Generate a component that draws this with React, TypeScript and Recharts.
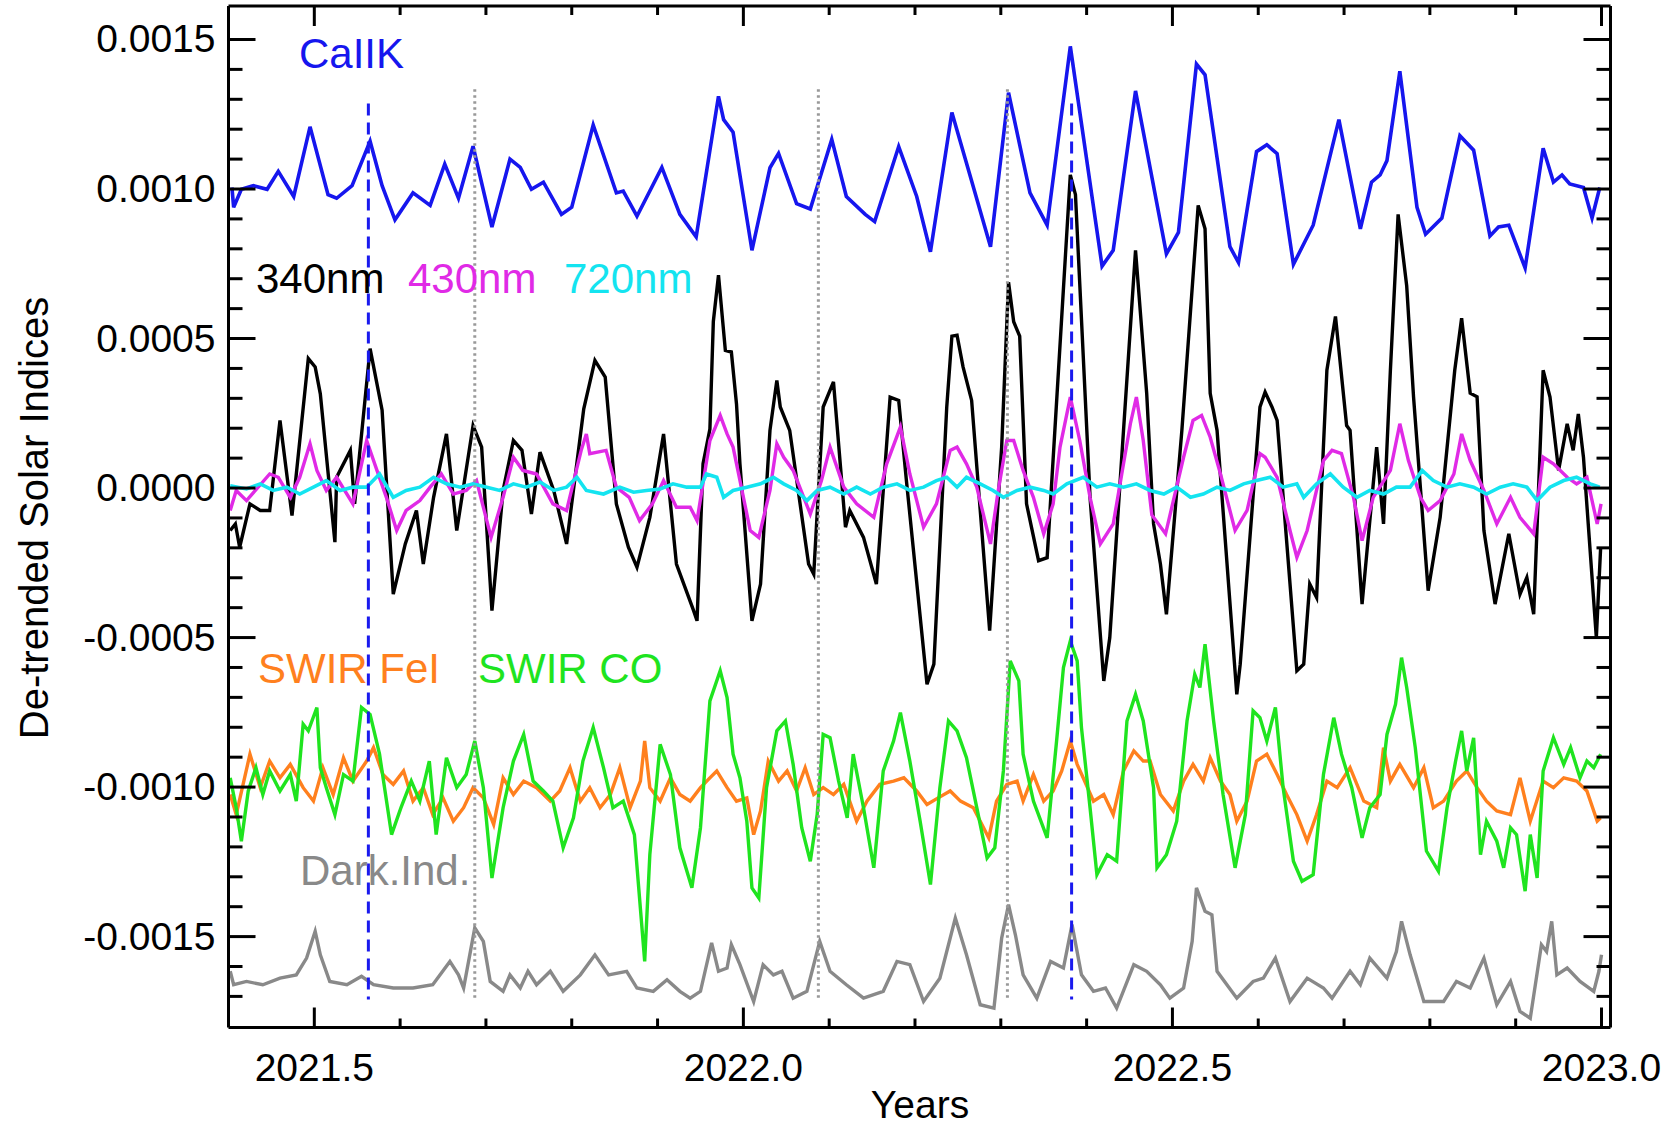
import React from 'react';
import { LineChart, Line, XAxis, YAxis, ReferenceLine } from 'recharts';

// All series values are read off the figure, in units of 1e-4 (axis shows them as 0.0015 etc.)
// pairs are [year, value]

const caiik: [number, number][] = [
    [2021.404, 10.05], [2021.406, 9.39], [2021.415, 9.99], [2021.429, 10.11], [2021.445, 9.99],
    [2021.458, 10.59], [2021.476, 9.75], [2021.495, 12.08], [2021.516, 9.81], [2021.526, 9.69],
    [2021.544, 10.11], [2021.565, 11.6], [2021.579, 10.11], [2021.594, 8.97], [2021.615, 9.87],
    [2021.635, 9.45], [2021.652, 10.83], [2021.668, 9.69], [2021.685, 11.43], [2021.707, 8.73],
    [2021.728, 11.0], [2021.74, 10.72], [2021.753, 9.99], [2021.767, 10.23], [2021.788, 9.15],
    [2021.8, 9.39], [2021.825, 12.14], [2021.852, 9.87], [2021.86, 9.93], [2021.876, 9.09],
    [2021.905, 10.72], [2021.926, 9.15], [2021.945, 8.4], [2021.971, 13.1], [2021.977, 12.32],
    [2021.988, 11.9], [2022.01, 7.95], [2022.031, 10.71], [2022.041, 11.19], [2022.062, 9.51],
    [2022.078, 9.33], [2022.103, 11.66], [2022.12, 9.75], [2022.142, 9.15], [2022.153, 8.91],
    [2022.181, 11.42], [2022.202, 9.75], [2022.218, 7.9], [2022.243, 12.56], [2022.264, 10.47],
    [2022.288, 8.07], [2022.309, 13.22], [2022.334, 9.87], [2022.354, 8.79], [2022.381, 14.77],
    [2022.418, 7.42], [2022.431, 7.95], [2022.457, 13.28], [2022.493, 7.83], [2022.507, 8.55],
    [2022.528, 14.18], [2022.538, 13.82], [2022.567, 8.07], [2022.577, 7.54], [2022.598, 11.25],
    [2022.61, 11.48], [2022.622, 11.18], [2022.641, 7.48], [2022.664, 8.79], [2022.694, 12.32],
    [2022.719, 8.67], [2022.732, 10.23], [2022.742, 10.47], [2022.75, 10.95], [2022.765, 13.94],
    [2022.785, 9.39], [2022.795, 8.49], [2022.814, 9.03], [2022.835, 11.78], [2022.851, 11.3],
    [2022.87, 8.43], [2022.88, 8.73], [2022.892, 8.79], [2022.911, 7.36], [2022.932, 11.36],
    [2022.944, 10.23], [2022.954, 10.47], [2022.963, 10.17], [2022.979, 10.05], [2022.989, 9.03],
    [2022.998, 10.05],
];

const nm340: [number, number][] = [
    [2021.402, -1.42], [2021.408, -1.2], [2021.413, -1.98], [2021.425, -0.53], [2021.437, -0.75],
    [2021.448, -0.75], [2021.46, 2.26], [2021.474, -0.92], [2021.493, 4.33], [2021.501, 4.05],
    [2021.507, 3.15], [2021.524, -1.81], [2021.526, 0.36], [2021.542, 1.26], [2021.547, -0.53],
    [2021.565, 4.66], [2021.579, 2.6], [2021.592, -3.55], [2021.606, -1.87], [2021.619, -0.75],
    [2021.627, -2.54], [2021.639, -0.31], [2021.654, 1.81], [2021.666, -1.42], [2021.685, 2.09],
    [2021.695, 1.37], [2021.707, -4.1], [2021.72, -0.08], [2021.732, 1.59], [2021.742, 1.26],
    [2021.753, -0.87], [2021.763, 1.2], [2021.779, -0.08], [2021.794, -1.87], [2021.814, 2.65],
    [2021.827, 4.27], [2021.839, 3.71], [2021.852, -0.53], [2021.866, -1.98], [2021.876, -2.65],
    [2021.891, -0.98], [2021.907, 1.81], [2021.922, -2.54], [2021.942, -4.1], [2021.946, -4.44],
    [2021.953, 0.81], [2021.961, 1.97], [2021.965, 5.57], [2021.971, 7.12], [2021.979, 4.6],
    [2021.986, 4.55], [2021.992, 2.81], [2021.996, 0.81], [2022.01, -4.44], [2022.02, -3.21],
    [2022.031, 1.93], [2022.039, 3.6], [2022.043, 2.71], [2022.054, 1.93], [2022.076, -2.54],
    [2022.082, -2.88], [2022.093, 2.71], [2022.105, 3.55], [2022.119, -1.31], [2022.124, -0.75],
    [2022.14, -1.65], [2022.155, -3.21], [2022.171, 3.04], [2022.181, 2.93], [2022.19, 0.25],
    [2022.214, -6.56], [2022.222, -5.89], [2022.237, 2.71], [2022.243, 5.08], [2022.249, 5.11],
    [2022.256, 4.05], [2022.266, 2.93], [2022.287, -4.77], [2022.301, 1.37], [2022.309, 6.88],
    [2022.315, 5.56], [2022.322, 5.08], [2022.33, -0.53], [2022.344, -2.43], [2022.354, -2.33],
    [2022.363, 1.93], [2022.381, 10.47], [2022.387, 9.81], [2022.404, -0.31], [2022.42, -6.45],
    [2022.427, -5.0], [2022.443, 1.93], [2022.457, 7.95], [2022.47, 3.17], [2022.478, -1.2],
    [2022.486, -2.54], [2022.493, -4.22], [2022.511, 1.93], [2022.53, 9.45], [2022.538, 8.67],
    [2022.544, 3.17], [2022.552, 1.93], [2022.575, -6.9], [2022.579, -5.89], [2022.602, 2.71],
    [2022.608, 3.21], [2022.616, 2.71], [2022.622, 2.26], [2022.645, -6.11], [2022.653, -5.89],
    [2022.66, -3.21], [2022.668, -3.66], [2022.68, 3.94], [2022.69, 5.74], [2022.703, 2.09],
    [2022.707, 1.93], [2022.721, -3.88], [2022.738, 1.37], [2022.746, -1.2], [2022.754, 3.94],
    [2022.763, 9.15], [2022.773, 6.76], [2022.781, 3.04], [2022.798, -3.43], [2022.812, -0.98],
    [2022.829, 3.94], [2022.837, 5.68], [2022.847, 3.17], [2022.855, 3.05], [2022.863, -1.42],
    [2022.876, -3.88], [2022.892, -1.53], [2022.905, -3.55], [2022.913, -2.99], [2022.921, -4.22],
    [2022.932, 3.94], [2022.94, 3.04], [2022.95, 0.59], [2022.96, 2.15], [2022.967, 1.26],
    [2022.973, 2.48], [2022.979, 1.03], [2022.994, -5.0], [2022.999, -2.0],
];

const nm430: [number, number][] = [
    [2021.402, -0.75], [2021.409, -0.08], [2021.421, -0.42], [2021.448, 0.47], [2021.458, 0.36],
    [2021.472, -0.31], [2021.483, 0.36], [2021.495, 1.48], [2021.503, 0.59], [2021.514, -0.08],
    [2021.526, 0.36], [2021.545, -0.53], [2021.561, 1.59], [2021.573, 0.59], [2021.584, -0.31],
    [2021.596, -1.42], [2021.607, -0.75], [2021.623, -0.42], [2021.635, 0.03], [2021.648, 0.47],
    [2021.662, -0.2], [2021.677, -0.08], [2021.689, 0.25], [2021.706, -1.65], [2021.72, -0.31],
    [2021.732, 1.03], [2021.743, 0.59], [2021.759, 0.47], [2021.778, -0.53], [2021.794, -0.75],
    [2021.811, 1.26], [2021.817, 1.81], [2021.821, 1.15], [2021.84, 1.26], [2021.852, 0.03],
    [2021.867, -0.31], [2021.879, -1.09], [2021.894, -0.53], [2021.907, 0.25], [2021.922, -0.64],
    [2021.938, -0.64], [2021.946, -1.09], [2021.961, 1.59], [2021.973, 2.43], [2021.981, 1.81],
    [2021.988, 1.37], [2022.008, -1.42], [2022.018, -1.65], [2022.031, -0.08], [2022.039, 1.48],
    [2022.047, 1.03], [2022.058, 0.59], [2022.078, -0.87], [2022.091, 0.25], [2022.101, 1.37],
    [2022.117, 0.03], [2022.132, -0.53], [2022.152, -0.98], [2022.167, 0.81], [2022.183, 2.04],
    [2022.194, 0.47], [2022.21, -1.31], [2022.225, -0.53], [2022.241, 1.26], [2022.249, 1.37],
    [2022.26, 0.81], [2022.272, 0.03], [2022.288, -1.87], [2022.297, -0.08], [2022.307, 1.59],
    [2022.315, 1.59], [2022.326, 0.59], [2022.338, -0.31], [2022.35, -1.53], [2022.361, -0.53],
    [2022.369, 1.37], [2022.381, 3.04], [2022.392, 1.59], [2022.404, -0.31], [2022.416, -1.87],
    [2022.431, -1.2], [2022.443, 0.81], [2022.451, 2.15], [2022.458, 3.04], [2022.466, 1.59],
    [2022.476, -0.9], [2022.492, -1.53], [2022.513, 1.03], [2022.524, 2.26], [2022.534, 2.43],
    [2022.544, 1.7], [2022.556, 0.47], [2022.573, -1.42], [2022.587, -0.75], [2022.602, 1.15],
    [2022.608, 1.03], [2022.622, 0.36], [2022.637, -1.42], [2022.645, -2.32], [2022.657, -1.42],
    [2022.676, 0.92], [2022.686, 1.26], [2022.697, 1.15], [2022.711, -0.31], [2022.721, -1.76],
    [2022.734, -0.31], [2022.754, 0.59], [2022.765, 2.15], [2022.775, 0.92], [2022.789, -0.31],
    [2022.798, -0.75], [2022.812, -0.42], [2022.828, 0.47], [2022.837, 1.81], [2022.847, 0.92],
    [2022.863, -0.08], [2022.878, -1.2], [2022.894, -0.31], [2022.905, -0.98], [2022.921, -1.53],
    [2022.932, 1.03], [2022.944, 0.81], [2022.96, 0.36], [2022.971, 0.14], [2022.983, 0.36],
    [2022.995, -1.2], [2022.9995, -0.53],
];

const nm720: [number, number][] = [
    [2021.402, 0.08], [2021.421, -0.03], [2021.437, 0.14], [2021.452, -0.08], [2021.468, 0.03],
    [2021.483, -0.2], [2021.499, 0.03], [2021.514, 0.25], [2021.53, -0.08], [2021.545, 0.03],
    [2021.561, 0.03], [2021.576, 0.47], [2021.592, -0.31], [2021.607, -0.08], [2021.623, 0.03],
    [2021.639, 0.36], [2021.654, 0.14], [2021.67, 0.03], [2021.685, 0.14], [2021.701, 0.03],
    [2021.716, -0.08], [2021.732, 0.14], [2021.747, 0.03], [2021.763, 0.2], [2021.779, -0.08],
    [2021.794, 0.03], [2021.806, 0.36], [2021.817, -0.08], [2021.837, -0.2], [2021.856, 0.03],
    [2021.872, -0.14], [2021.887, -0.08], [2021.903, -0.03], [2021.918, 0.14], [2021.934, 0.03],
    [2021.95, 0.03], [2021.957, 0.47], [2021.969, 0.36], [2021.977, -0.31], [2021.988, -0.08],
    [2022.004, 0.03], [2022.02, 0.14], [2022.035, 0.36], [2022.047, 0.14], [2022.062, -0.08],
    [2022.074, -0.42], [2022.086, -0.08], [2022.101, 0.03], [2022.117, -0.2], [2022.132, 0.03],
    [2022.148, -0.2], [2022.163, 0.03], [2022.179, 0.14], [2022.194, -0.08], [2022.21, 0.03],
    [2022.225, 0.25], [2022.237, 0.36], [2022.249, 0.03], [2022.26, 0.36], [2022.276, 0.14],
    [2022.291, -0.08], [2022.303, -0.31], [2022.319, -0.08], [2022.334, 0.03], [2022.35, -0.08],
    [2022.361, -0.2], [2022.377, 0.14], [2022.396, 0.36], [2022.412, 0.03], [2022.427, 0.14],
    [2022.443, 0.03], [2022.458, 0.14], [2022.474, -0.08], [2022.49, -0.2], [2022.505, 0.03],
    [2022.521, -0.31], [2022.536, -0.2], [2022.552, 0.03], [2022.567, -0.08], [2022.583, 0.14],
    [2022.598, 0.25], [2022.614, 0.36], [2022.629, 0.03], [2022.645, 0.14], [2022.653, -0.31],
    [2022.668, 0.14], [2022.684, 0.47], [2022.699, 0.03], [2022.715, -0.31], [2022.73, -0.08],
    [2022.746, -0.2], [2022.761, 0.03], [2022.777, 0.03], [2022.791, 0.59], [2022.804, 0.25],
    [2022.82, 0.03], [2022.835, 0.14], [2022.851, 0.03], [2022.866, -0.2], [2022.882, 0.03],
    [2022.897, 0.14], [2022.913, 0.03], [2022.925, -0.42], [2022.94, 0.03], [2022.956, 0.25],
    [2022.971, 0.36], [2022.987, 0.14], [2022.998, 0.03],
];

const swirFe: [number, number][] = [
    [2021.402, -10.25], [2021.409, -10.92], [2021.425, -8.9], [2021.437, -10.02], [2021.448, -9.13],
    [2021.46, -9.69], [2021.472, -9.24], [2021.487, -10.02], [2021.499, -10.47], [2021.51, -9.35],
    [2021.522, -10.25], [2021.534, -9.02], [2021.545, -9.8], [2021.561, -9.13], [2021.569, -8.68],
    [2021.58, -9.58], [2021.592, -9.91], [2021.604, -9.46], [2021.615, -10.47], [2021.627, -10.02],
    [2021.638, -10.92], [2021.65, -10.36], [2021.662, -11.14], [2021.674, -10.69], [2021.685, -10.02],
    [2021.697, -10.36], [2021.709, -11.25], [2021.72, -9.69], [2021.732, -10.25], [2021.744, -9.8],
    [2021.759, -10.02], [2021.775, -10.47], [2021.786, -10.13], [2021.798, -9.35], [2021.81, -10.47],
    [2021.821, -10.02], [2021.833, -10.69], [2021.845, -10.25], [2021.856, -9.35], [2021.868, -10.69],
    [2021.88, -9.8], [2021.885, -8.46], [2021.891, -10.02], [2021.903, -10.47], [2021.915, -9.69],
    [2021.926, -10.25], [2021.938, -10.47], [2021.95, -10.02], [2021.961, -9.69], [2021.969, -9.46],
    [2021.981, -10.02], [2021.992, -10.47], [2022.004, -10.36], [2022.012, -11.59], [2022.02, -10.8],
    [2022.029, -9.13], [2022.041, -9.8], [2022.051, -9.46], [2022.062, -10.13], [2022.072, -9.35],
    [2022.082, -10.25], [2022.093, -10.02], [2022.105, -10.25], [2022.117, -9.91], [2022.132, -11.14],
    [2022.144, -10.47], [2022.159, -9.91], [2022.175, -9.8], [2022.187, -9.69], [2022.202, -10.13],
    [2022.214, -10.58], [2022.227, -10.36], [2022.241, -10.13], [2022.253, -10.47], [2022.268, -10.69],
    [2022.286, -11.7], [2022.295, -10.47], [2022.307, -9.91], [2022.319, -9.8], [2022.326, -10.47],
    [2022.338, -9.58], [2022.35, -10.47], [2022.361, -10.13], [2022.371, -9.46], [2022.381, -8.46],
    [2022.389, -9.24], [2022.396, -9.69], [2022.408, -10.47], [2022.42, -10.25], [2022.431, -10.92],
    [2022.443, -9.46], [2022.455, -8.79], [2022.466, -9.13], [2022.474, -9.13], [2022.486, -10.25],
    [2022.501, -10.8], [2022.513, -9.8], [2022.524, -9.24], [2022.536, -9.8], [2022.544, -9.02],
    [2022.556, -9.8], [2022.567, -10.25], [2022.575, -11.14], [2022.587, -10.47], [2022.598, -9.13],
    [2022.61, -8.9], [2022.622, -9.58], [2022.633, -10.25], [2022.645, -10.92], [2022.657, -11.81],
    [2022.668, -10.92], [2022.68, -9.8], [2022.692, -10.02], [2022.707, -9.35], [2022.723, -10.47],
    [2022.738, -10.69], [2022.746, -8.68], [2022.754, -9.8], [2022.765, -9.24], [2022.781, -10.02],
    [2022.793, -9.35], [2022.804, -10.69], [2022.816, -10.47], [2022.831, -9.8], [2022.843, -9.46],
    [2022.855, -10.02], [2022.866, -10.47], [2022.878, -10.8], [2022.894, -10.92], [2022.905, -9.69],
    [2022.917, -11.14], [2022.932, -9.8], [2022.944, -10.02], [2022.956, -9.69], [2022.971, -9.8],
    [2022.983, -10.13], [2022.995, -11.14], [2022.999, -11.03],
];

const swirCO: [number, number][] = [
    [2021.402, -9.69], [2021.409, -10.69], [2021.415, -11.81], [2021.423, -10.13], [2021.432, -9.35],
    [2021.44, -10.25], [2021.448, -9.46], [2021.46, -10.13], [2021.472, -9.58], [2021.479, -10.47],
    [2021.487, -7.9], [2021.493, -8.12], [2021.503, -7.34], [2021.507, -9.35], [2021.514, -10.02],
    [2021.524, -10.92], [2021.534, -9.58], [2021.545, -9.8], [2021.555, -7.34], [2021.565, -7.57],
    [2021.576, -8.9], [2021.59, -11.59], [2021.601, -10.69], [2021.613, -9.8], [2021.623, -10.47],
    [2021.634, -9.13], [2021.642, -11.59], [2021.654, -9.02], [2021.666, -10.02], [2021.677, -9.58],
    [2021.687, -8.46], [2021.697, -10.02], [2021.707, -13.04], [2021.72, -10.69], [2021.732, -9.13],
    [2021.744, -8.24], [2021.755, -9.8], [2021.767, -10.13], [2021.778, -10.47], [2021.79, -12.03],
    [2021.802, -11.03], [2021.813, -9.13], [2021.825, -8.01], [2021.837, -9.35], [2021.848, -10.69],
    [2021.86, -10.47], [2021.873, -11.59], [2021.885, -15.83], [2021.891, -12.26], [2021.903, -8.57],
    [2021.915, -9.58], [2021.926, -12.03], [2021.94, -13.37], [2021.95, -11.36], [2021.961, -7.12],
    [2021.973, -6.11], [2021.981, -7.01], [2021.988, -8.9], [2021.996, -9.69], [2022.004, -11.14],
    [2022.01, -13.37], [2022.018, -13.71], [2022.027, -10.02], [2022.039, -8.12], [2022.049, -7.79],
    [2022.058, -9.24], [2022.068, -11.36], [2022.078, -12.48], [2022.086, -10.92], [2022.093, -8.24],
    [2022.101, -8.35], [2022.111, -9.8], [2022.121, -11.03], [2022.128, -8.9], [2022.14, -10.69],
    [2022.152, -12.7], [2022.163, -9.46], [2022.175, -8.46], [2022.183, -7.51], [2022.194, -9.13],
    [2022.206, -11.14], [2022.218, -13.26], [2022.229, -10.02], [2022.239, -7.79], [2022.249, -8.12],
    [2022.26, -9.02], [2022.272, -10.69], [2022.284, -12.37], [2022.293, -12.03], [2022.303, -9.46],
    [2022.311, -5.78], [2022.321, -6.45], [2022.326, -8.9], [2022.338, -10.47], [2022.354, -11.7],
    [2022.365, -8.46], [2022.373, -6.0], [2022.381, -5.11], [2022.389, -5.78], [2022.394, -8.01],
    [2022.404, -10.69], [2022.412, -12.93], [2022.424, -12.26], [2022.435, -12.48], [2022.447, -7.79],
    [2022.457, -6.9], [2022.466, -7.79], [2022.478, -10.02], [2022.482, -12.7], [2022.493, -12.26],
    [2022.505, -11.14], [2022.517, -7.79], [2022.526, -6.23], [2022.532, -6.67], [2022.538, -5.22],
    [2022.548, -7.79], [2022.559, -10.25], [2022.573, -12.7], [2022.585, -10.92], [2022.594, -7.45],
    [2022.602, -7.68], [2022.61, -8.46], [2022.62, -7.34], [2022.629, -10.02], [2022.641, -12.48],
    [2022.651, -13.15], [2022.664, -12.93], [2022.676, -9.58], [2022.688, -7.68], [2022.697, -8.9],
    [2022.709, -10.02], [2022.721, -11.7], [2022.73, -10.69], [2022.742, -10.25], [2022.75, -8.24],
    [2022.76, -7.23], [2022.767, -5.67], [2022.773, -6.67], [2022.783, -8.68], [2022.796, -12.14],
    [2022.81, -12.81], [2022.82, -10.69], [2022.83, -9.13], [2022.837, -8.12], [2022.843, -9.46],
    [2022.851, -8.35], [2022.859, -12.26], [2022.866, -11.14], [2022.878, -11.81], [2022.886, -12.7],
    [2022.894, -11.36], [2022.901, -11.59], [2022.911, -13.48], [2022.917, -11.59], [2022.925, -13.04],
    [2022.932, -9.46], [2022.944, -8.35], [2022.956, -9.24], [2022.964, -8.68], [2022.975, -9.69],
    [2022.983, -9.13], [2022.991, -9.35], [2022.999, -8.9],
];

const darkInd: [number, number][] = [
    [2021.402, -16.16], [2021.406, -16.61], [2021.421, -16.5], [2021.44, -16.61], [2021.46, -16.39],
    [2021.479, -16.28], [2021.491, -15.72], [2021.501, -14.82], [2021.507, -15.61], [2021.518, -16.5],
    [2021.538, -16.61], [2021.555, -16.33], [2021.569, -16.61], [2021.592, -16.72], [2021.615, -16.72],
    [2021.638, -16.61], [2021.658, -15.83], [2021.668, -16.28], [2021.674, -16.72], [2021.687, -14.71],
    [2021.697, -15.16], [2021.705, -16.5], [2021.72, -16.83], [2021.728, -16.28], [2021.74, -16.72],
    [2021.749, -16.16], [2021.759, -16.61], [2021.775, -16.16], [2021.79, -16.83], [2021.81, -16.28],
    [2021.827, -15.61], [2021.843, -16.28], [2021.864, -16.16], [2021.876, -16.72], [2021.895, -16.83],
    [2021.911, -16.44], [2021.926, -16.83], [2021.938, -17.06], [2021.95, -16.83], [2021.963, -15.21],
    [2021.971, -16.16], [2021.981, -16.05], [2021.986, -15.27], [2021.996, -15.94], [2022.012, -17.17],
    [2022.023, -15.94], [2022.035, -16.28], [2022.045, -16.16], [2022.058, -17.06], [2022.074, -16.83],
    [2022.089, -15.16], [2022.101, -16.16], [2022.12, -16.61], [2022.14, -17.06], [2022.163, -16.83],
    [2022.179, -15.83], [2022.194, -15.94], [2022.21, -17.17], [2022.229, -16.39], [2022.247, -14.38],
    [2022.26, -15.61], [2022.276, -17.28], [2022.292, -17.39], [2022.301, -15.05], [2022.309, -13.93],
    [2022.317, -14.94], [2022.326, -16.28], [2022.342, -17.06], [2022.358, -15.83], [2022.373, -16.05],
    [2022.383, -14.6], [2022.394, -16.28], [2022.408, -16.83], [2022.422, -16.72], [2022.435, -17.39],
    [2022.455, -15.94], [2022.47, -16.16], [2022.486, -16.61], [2022.497, -17.06], [2022.513, -16.72],
    [2022.523, -15.16], [2022.528, -13.37], [2022.538, -14.15], [2022.546, -14.27], [2022.552, -16.16],
    [2022.575, -17.06], [2022.594, -16.5], [2022.606, -16.39], [2022.62, -15.72], [2022.637, -17.17],
    [2022.657, -16.39], [2022.676, -16.72], [2022.686, -17.06], [2022.707, -16.16], [2022.719, -16.61],
    [2022.73, -15.72], [2022.75, -16.39], [2022.761, -15.5], [2022.767, -14.49], [2022.777, -15.61],
    [2022.793, -17.17], [2022.816, -17.17], [2022.831, -16.5], [2022.847, -16.72], [2022.863, -15.72],
    [2022.878, -17.28], [2022.894, -16.5], [2022.905, -17.5], [2022.917, -17.73], [2022.93, -15.27],
    [2022.936, -15.5], [2022.942, -14.49], [2022.948, -16.28], [2022.96, -16.05], [2022.975, -16.5],
    [2022.991, -16.83], [2022.997, -16.16], [2023.0, -15.61],
];

// vertical marker lines (years) and their extent
const blueDashYears = [2021.563, 2022.3825];
const grayDotYears = [2021.687, 2022.0874, 2022.3077];
const dashTop = 12.86;
const dotTop = 13.34;
const markBottom = -17.1;

const xTicks = [
    2021.5, 2021.6, 2021.7, 2021.8, 2021.9, 2022.0, 2022.1, 2022.2,
    2022.3, 2022.4, 2022.5, 2022.6, 2022.7, 2022.8, 2022.9, 2023.0,
];
const yTicks = [
    -17, -16, -15, -14, -13, -12, -11, -10, -9, -8, -7, -6, -5, -4, -3, -2, -1,
    0, 1, 2, 3, 4, 5, 6, 7, 8, 9, 10, 11, 12, 13, 14, 15,
];

const FONT = '"Liberation Sans", Arial, Helvetica, sans-serif';

const toPoints = (pairs: [number, number][]) => pairs.map(([x, v]) => ({ x, v }));

const series = [
    { name: 'CaIIK', data: caiik, color: '#1616ee', width: 3.6 },
    { name: '340nm', data: nm340, color: '#000000', width: 3.4 },
    { name: '430nm', data: nm430, color: '#e02ae6', width: 3.4 },
    { name: '720nm', data: nm720, color: '#14e4f0', width: 3.6 },
    { name: 'SWIR FeI', data: swirFe, color: '#ff801e', width: 3.4 },
    { name: 'SWIR CO', data: swirCO, color: '#1fe41f', width: 3.4 },
    { name: 'Dark.Ind.', data: darkInd, color: '#898989', width: 3.4 },
];

const labels = [
    { text: 'CaIIK', color: '#1616ee', x: 299, y: 68 },
    { text: '340nm', color: '#000000', x: 256, y: 293 },
    { text: '430nm', color: '#e02ae6', x: 408, y: 293 },
    { text: '720nm', color: '#14e4f0', x: 564, y: 293 },
    { text: 'SWIR FeI', color: '#ff801e', x: 258, y: 683 },
    { text: 'SWIR CO', color: '#1fe41f', x: 478, y: 683 },
    { text: 'Dark.Ind.', color: '#898989', x: 300, y: 885 },
];

const isMajorY = (v: number) => v % 5 === 0;
const isMajorX = (v: number) => Math.abs(v * 2 - Math.round(v * 2)) < 1e-6;

const LeftTick = ({ x, y, payload }: any) => {
    const major = isMajorY(payload.value);
    return (
        <g>
            <line x1={x} y1={y} x2={x + (major ? 27 : 14)} y2={y} stroke="#000" strokeWidth={3} />
            {major && (
                <text x={x - 13} y={y + 13} textAnchor="end" fontSize={39} fontFamily={FONT} fill="#000">
                    {(payload.value / 1e4).toFixed(4)}
                </text>
            )}
        </g>
    );
};

const RightTick = ({ x, y, payload }: any) => {
    const major = isMajorY(payload.value);
    return <line x1={x} y1={y} x2={x - (major ? 27 : 14)} y2={y} stroke="#000" strokeWidth={3} />;
};

const BottomTick = ({ x, y, payload }: any) => {
    const major = isMajorX(payload.value);
    return (
        <g>
            <line x1={x} y1={y} x2={x} y2={y - (major ? 20 : 9)} stroke="#000" strokeWidth={3} />
            {major && (
                <text x={x} y={y + 53} textAnchor="middle" fontSize={39} fontFamily={FONT} fill="#000">
                    {payload.value.toFixed(1)}
                </text>
            )}
        </g>
    );
};

const TopTick = ({ x, y, payload }: any) => {
    const major = isMajorX(payload.value);
    return <line x1={x} y1={y} x2={x} y2={y + (major ? 20 : 9)} stroke="#000" strokeWidth={3} />;
};

const axisLine = { stroke: '#000', strokeWidth: 3 };
const xDomain = [2021.4, 2023.0105];
const yDomain = [-18.04, 16.12];

export default function App() {
    return (
        <div style={{ position: 'absolute', left: 0, top: 0, width: 1675, height: 1128, background: '#fff' }}>
            <LineChart width={1675} height={1128} margin={{ top: 5, right: 63.5, bottom: 40.5, left: 28.5 }}>
                <XAxis
                    type="number"
                    dataKey="x"
                    domain={xDomain}
                    allowDataOverflow
                    ticks={xTicks}
                    interval={0}
                    height={60}
                    tickSize={0}
                    tickMargin={0}
                    tickLine={false}
                    axisLine={axisLine}
                    tick={<BottomTick />}
                />
                <XAxis
                    xAxisId="top"
                    orientation="top"
                    type="number"
                    dataKey="x"
                    domain={xDomain}
                    allowDataOverflow
                    ticks={xTicks}
                    interval={0}
                    height={1}
                    tickSize={0}
                    tickMargin={0}
                    tickLine={false}
                    axisLine={axisLine}
                    tick={<TopTick />}
                />
                <YAxis
                    type="number"
                    dataKey="v"
                    domain={yDomain}
                    allowDataOverflow
                    ticks={yTicks}
                    interval={0}
                    width={200}
                    tickSize={0}
                    tickMargin={0}
                    tickLine={false}
                    axisLine={axisLine}
                    tick={<LeftTick />}
                />
                <YAxis
                    yAxisId="right"
                    orientation="right"
                    type="number"
                    domain={yDomain}
                    allowDataOverflow
                    ticks={yTicks}
                    interval={0}
                    width={1}
                    tickSize={0}
                    tickMargin={0}
                    tickLine={false}
                    axisLine={axisLine}
                    tick={<RightTick />}
                />
                {series.map((s) => (
                    <Line
                        key={s.name}
                        name={s.name}
                        data={toPoints(s.data)}
                        dataKey="v"
                        type="linear"
                        stroke={s.color}
                        strokeWidth={s.width}
                        dot={false}
                        activeDot={false}
                        isAnimationActive={false}
                    />
                ))}
                {blueDashYears.map((yr) => (
                    <ReferenceLine
                        key={`b${yr}`}
                        segment={[{ x: yr, y: dashTop }, { x: yr, y: markBottom }]}
                        stroke="#1a1aee"
                        strokeWidth={3}
                        strokeDasharray="12 7"
                    />
                ))}
                {grayDotYears.map((yr) => (
                    <ReferenceLine
                        key={`g${yr}`}
                        segment={[{ x: yr, y: dotTop }, { x: yr, y: markBottom }]}
                        stroke="#999"
                        strokeWidth={3}
                        strokeDasharray="2.5 3.5"
                    />
                ))}
            </LineChart>
            <svg
                width={1675}
                height={1128}
                style={{ position: 'absolute', left: 0, top: 0, pointerEvents: 'none' }}
            >
                {labels.map((l) => (
                    <text key={l.text} x={l.x} y={l.y} fill={l.color} fontSize={42} fontFamily={FONT}>
                        {l.text}
                    </text>
                ))}
                <text x={920} y={1118} textAnchor="middle" fontSize={39} fontFamily={FONT} fill="#000">
                    Years
                </text>
                <text
                    x={48}
                    y={518}
                    textAnchor="middle"
                    fontSize={40}
                    fontFamily={FONT}
                    fill="#000"
                    transform="rotate(-90 48 518)"
                >
                    De-trended Solar Indices
                </text>
            </svg>
        </div>
    );
}
